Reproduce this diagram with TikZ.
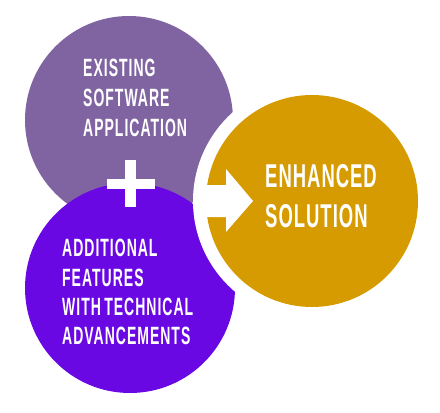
\documentclass[tikz,border=0pt]{standalone}
\usepackage{fontspec}
\newfontfamily\lblfont[FakeStretch=0.56,LetterSpace=4]{Liberation Sans Bold}
\newfontfamily\bigfont[FakeStretch=0.56,LetterSpace=3]{Liberation Sans Bold}
\definecolor{cpurple}{RGB}{128,100,162}
\definecolor{cviolet}{RGB}{106,8,228}
\definecolor{cgold}{RGB}{214,155,0}
\tikzset{
  lbl/.style={text=white, inner sep=0pt, anchor=base west, font=\lblfont\fontsize{25}{25}\selectfont},
  biglbl/.style={text=white, inner sep=0pt, anchor=base west, font=\bigfont\fontsize{33}{33}\selectfont},
  shapefill/.style={fill=white, draw=none}
}
\begin{document}
\begin{tikzpicture}[x=1pt,y=-1pt]
\useasboundingbox (0,0) rectangle (440,413);
\fill[white] (0,0) rectangle (440,413);
% circles
\fill[cpurple] (129,120) circle (104);
\fill[cviolet] (130,288) circle (105);
\fill[white] (312,201) circle (119);
\fill[cgold] (312,201) circle (106);
% plus
\fill[shapefill] (125,160) rectangle (136,207);
\fill[shapefill] (107,179) rectangle (155,189);
% arrow
\fill[shapefill] (195,185) -- (226,185) -- (226,169) -- (253,201) -- (226,232) -- (226,217) -- (195,217) -- cycle;
% texts
\node[lbl] (e1) at (83,76) {EXISTING};
\node[lbl] (e2) at (83,106) {SOFTWARE};
\node[lbl] (e3) at (83,136) {APPLICATION};
\node[lbl] (a1) at (62,256) {ADDITIONAL};
\node[lbl] (a2) at (62,286) {FEATURES};
\node[lbl] (a3) at (62,315) {WITH\kern-1.5pt\ TECHNICAL};
\node[lbl] (a4) at (62,344) {ADVANCEMENTS};
\node[biglbl] (s1) at (265,187) {ENHANCED};
\node[biglbl] (s2) at (265,227) {SOLUTION};
\end{tikzpicture}
\end{document}
